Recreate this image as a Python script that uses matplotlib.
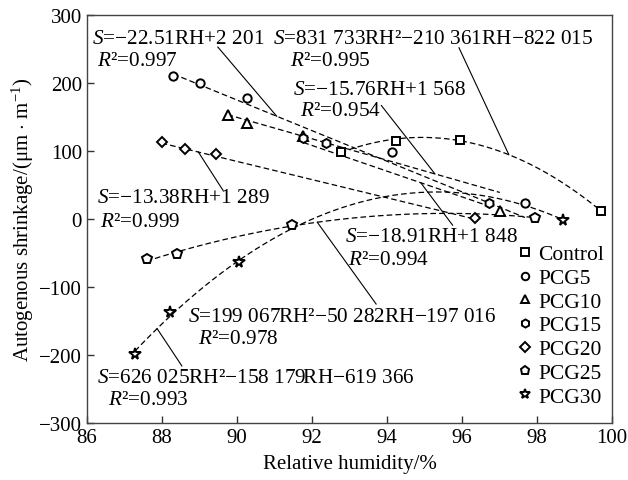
import numpy as np
import matplotlib.pyplot as plt

plt.rcParams['font.family'] = ['Liberation Serif', 'DejaVu Serif']
plt.rcParams['mathtext.fontset'] = 'custom'
plt.rcParams['mathtext.rm'] = 'Liberation Serif'
plt.rcParams['mathtext.it'] = 'Liberation Serif:italic'
plt.rcParams['axes.unicode_minus'] = True

# relative humidity (%) vs autogenous shrinkage (um/m) for each mix
rh_control = [92.77, 94.24, 95.96, 99.70]
s_control = [99, 115, 117, 12]
rh_pcg5 = [88.30, 89.01, 90.26, 94.13, 97.68]
s_pcg5 = [211, 200, 178, 98, 24]
rh_pcg10 = [89.75, 90.26, 91.77, 97.01]
s_pcg10 = [153, 142, 122, 12]
rh_pcg15 = [91.77, 92.37, 96.73]
s_pcg15 = [119, 112, 23]
rh_pcg20 = [87.99, 88.62, 89.43, 96.35]
s_pcg20 = [113, 103, 95, 1]
rh_pcg25 = [87.59, 88.41, 91.47, 97.95]
s_pcg25 = [-59, -52, -9, 2]
rh_pcg30 = [87.28, 88.21, 90.06, 98.70]
s_pcg30 = [-198, -137, -63, -1]

# linear fits (slope, intercept) as reported
fit_pcg5 = (-22.51, 2201)
fit_pcg10 = (-15.76, 1568)
fit_pcg15 = (-18.91, 1848)
fit_pcg20 = (-13.38, 1289)

series = [
    ('Control', rh_control, s_control, 's', 6),
    ('PCG5', rh_pcg5, s_pcg5, 'o', 6),
    ('PCG10', rh_pcg10, s_pcg10, '^', 7),
    ('PCG15', rh_pcg15, s_pcg15, 'h', 6.5),
    ('PCG20', rh_pcg20, s_pcg20, 'D', 5.5),
    ('PCG25', rh_pcg25, s_pcg25, 'p', 7),
    ('PCG30', rh_pcg30, s_pcg30, '*', 8.5),
]

fig = plt.figure(figsize=(6.28, 4.81), dpi=100)
ax = fig.add_axes([0.1385, 0.1185, 0.836, 0.848])

dash = dict(color='black', lw=0.9, dashes=(4.5, 2.5), zorder=2)


def lin(fit, x):
    return fit[0] * np.asarray(x) + fit[1]


def quad(rh, s):
    return np.poly1d(np.polyfit(rh, s, 2))


q_control = quad(rh_control, s_control)
q_pcg25 = quad(rh_pcg25, s_pcg25)
q_pcg30 = quad(rh_pcg30, s_pcg30)

for rh, fn in [(rh_control, q_control), (rh_pcg25, q_pcg25), (rh_pcg30, q_pcg30)]:
    xx = np.linspace(min(rh), max(rh), 200)
    ax.plot(xx, fn(xx), **dash)

for rh, fit in [(rh_pcg5, fit_pcg5), (rh_pcg10, fit_pcg10),
                (rh_pcg15, fit_pcg15), (rh_pcg20, fit_pcg20)]:
    xx = np.array([min(rh), max(rh)])
    ax.plot(xx, lin(fit, xx), **dash)

for name, rh, s, mk, ms in series:
    ax.plot(rh, s, linestyle='none', marker=mk, markersize=ms,
            markerfacecolor='white', markeredgecolor='black',
            markeredgewidth=1.4, label=name, zorder=3)

fs = 15.3
notes = [
    ('$S$=−22.51RH+2 201', (86.13, 265)),
    ('$R$²=0.997', (86.27, 233)),
    ('$S$=831 733RH²−210 361RH−822 015', (90.96, 265)),
    ('$R$²=0.995', (91.41, 233)),
    ('$S$=−15.76RH+1 568', (91.49, 191)),
    ('$R$²=0.954', (91.68, 159)),
    ('$S$=−13.38RH+1 289', (86.27, 32)),
    ('$R$²=0.999', (86.35, -3)),
    ('$S$=−18.91RH+1 848', (92.88, -25)),
    ('$R$²=0.994', (92.96, -59)),
    ('$S$=199 067RH²−50 282RH−197 016', (88.69, -144)),
    ('$R$²=0.978', (88.96, -175)),
    ('$S$=626 025RH²−158 179RH−619 366', (86.27, -233)),
    ('$R$²=0.993', (86.56, -266)),
]
for txt, (x, y) in notes:
    ax.text(x, y, txt, fontsize=fs, ha='left', va='center', zorder=4)

# leader lines from equations to their curves
leaders = [
    ((89.49, 253), (91.06, lin(fit_pcg5, 91.06))),
    ((95.92, 252), (97.25, q_control(97.25))),
    ((93.85, 167), (95.28, lin(fit_pcg10, 95.28))),
    ((89.63, 42), (88.97, lin(fit_pcg20, 88.97))),
    ((95.75, -9), (94.90, lin(fit_pcg15, 94.90))),
    ((93.71, -125), (92.14, q_pcg25(92.14))),
    ((88.53, -216), (87.87, q_pcg30(87.87))),
]
for (x0, y0), (x1, y1) in leaders:
    ax.plot([x0, x1], [y0, y1], color='black', lw=0.8, zorder=2)

ax.set_xlim(86, 100)
ax.set_ylim(-300, 300)
ax.set_xticks(np.arange(86, 101, 2))
ax.set_yticks(np.arange(-300, 301, 100))
ax.tick_params(direction='in', length=5, width=1, labelsize=15,
               top=False, right=False, colors='#333333', labelcolor='black')
for sp in ax.spines.values():
    sp.set_color('#444444')
    sp.set_linewidth(1)

ax.set_xlabel('Relative humidity/%', fontsize=15, labelpad=5)
ax.set_ylabel('Autogenous shrinkage/(μm $\\cdot$ m$^{-1}$)', fontsize=15, labelpad=2)

ax.legend(loc='lower right', bbox_to_anchor=(0.985, 0.04), frameon=False,
          fontsize=15.5, handlelength=0.6, handletextpad=0.3, labelspacing=0.17,
          borderpad=0, borderaxespad=0, markerscale=0.9)

fig.savefig('out.png', dpi=100)
